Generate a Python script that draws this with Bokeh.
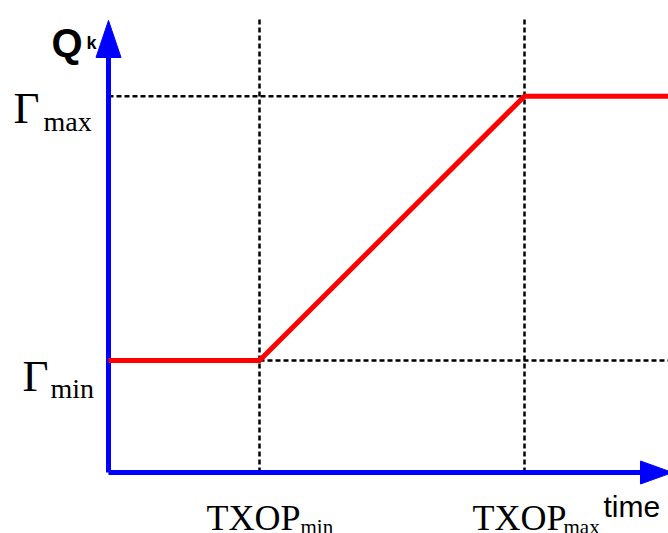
from bokeh.plotting import figure
from bokeh.models import Range1d
from bokeh.core.properties import value
from bokeh.embed import file_html
from bokeh.resources import INLINE

# ---- data (diagram values) ----
TIME_POINTS = [0.0, 1.0, 2.755, 3.72]
Q_VALUES = [1.0, 1.0, 3.36, 3.36]
TXOP_MIN = 1.0
TXOP_MAX = 2.755
GAMMA_MIN = 1.0
GAMMA_MAX = 3.36
Y_MAIN_LABELS = ["\u0393", "\u0393"]
Y_SUB_LABELS = ["max", "min"]
X_MAIN_LABELS = ["TXOP", "TXOP"]
X_SUB_LABELS = ["min", "max"]
Y_AXIS_LABEL = ["Q", "k"]
X_AXIS_LABEL = ["time"]

# ---- layout helpers (reference pixel -> data units) ----
OX, OY = 108.0, 472.0      # origin in page pixels
SX, SY = 151.0, 112.0      # pixels per unit

def dx(px):
    return (px - OX) / SX

def dy(py):
    return (OY - py) / SY

W, H = 668, 533
p = figure(width=W, height=H, output_backend="svg", toolbar_location=None,
           x_range=Range1d(dx(0), dx(W)), y_range=Range1d(dy(H), dy(0)),
           min_border=0, outline_line_color=None)
p.axis.visible = False
p.grid.visible = False
p.background_fill_color = "white"
p.border_fill_color = "white"

BLACK = "#000000"
DASH = "5 3"
DW = 2.5
top_y = dy(18)
x_end = dx(670)

# dashed guides
p.line([TXOP_MIN, TXOP_MIN], [0, top_y], line_color=BLACK, line_width=DW, line_dash=DASH)
p.line([TXOP_MAX, TXOP_MAX], [0, top_y], line_color=BLACK, line_width=DW, line_dash=DASH)
p.line([0, x_end], [GAMMA_MAX, GAMMA_MAX], line_color=BLACK, line_width=DW, line_dash=DASH)
p.line([TXOP_MIN, x_end], [GAMMA_MIN, GAMMA_MIN], line_color=BLACK, line_width=DW, line_dash=DASH)

# axes with arrows
BLUE = "#0000ff"
y_tip, y_base = dy(20), dy(57)
x_tip, x_base = dx(672), dx(640)
hw_y = 12.5 / SX
hw_x = 11.5 / SY
p.line([0, 0], [0, y_base + 0.02], line_color=BLUE, line_width=5)
p.line([0, x_base + 0.02], [0, 0], line_color=BLUE, line_width=5)
p.patch([-hw_y, 0, hw_y], [y_base, y_tip, y_base], fill_color=BLUE, line_color=BLUE)
p.patch([x_base, x_tip, x_base], [hw_x, 0, -hw_x], fill_color=BLUE, line_color=BLUE)

# red curve
p.line(TIME_POINTS, Q_VALUES, line_color="#ff0000", line_width=5, line_join="miter")

SERIF = value("Liberation Serif")
SANS = value("Liberation Sans")


def label(px, py, txt, font, size, style="normal"):
    p.text(x=[dx(px)], y=[dy(py)], text=[txt], text_font=font,
           text_font_size=size, text_font_style=style, text_align="left",
           text_baseline="alphabetic", text_color=BLACK)


# Gamma labels
label(13, 107, Y_MAIN_LABELS[0], SERIF, "45px")
label(43, 121, Y_SUB_LABELS[0], SERIF, "28px")
label(22, 375, Y_MAIN_LABELS[1], SERIF, "45px")
label(50, 388, Y_SUB_LABELS[1], SERIF, "28px")

# TXOP labels
label(206, 517, X_MAIN_LABELS[0], SERIF, "36px")
label(300, 526, X_SUB_LABELS[0], SERIF, "21px")
label(472, 517, X_MAIN_LABELS[1], SERIF, "36px")
label(563, 526, X_SUB_LABELS[1], SERIF, "21px")

# axis names
label(51, 42, Y_AXIS_LABEL[0], SANS, "40px", "bold")
label(86, 42, Y_AXIS_LABEL[1], SANS, "18px", "bold")
label(603, 506, X_AXIS_LABEL[0], SANS, "30px")

open("out.html", "w").write(file_html(p, INLINE))
